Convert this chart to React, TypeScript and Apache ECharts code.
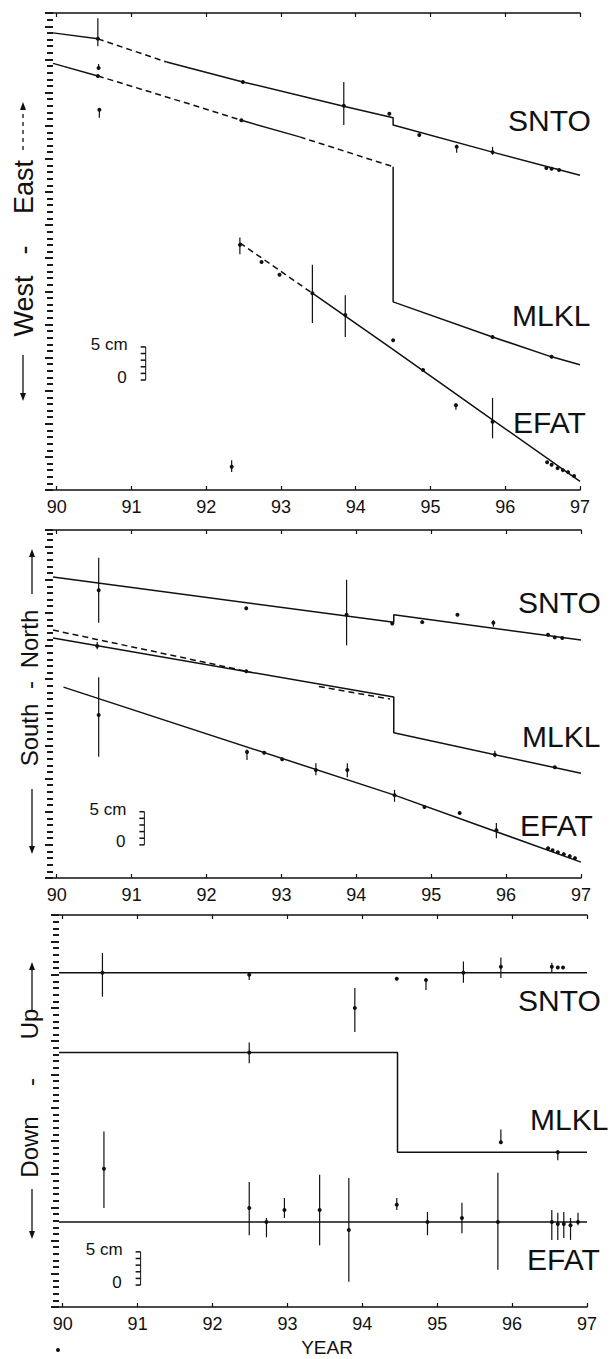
import React, { useEffect, useRef } from "react";
import * as echarts from "echarts";

const FONT = "'Liberation Sans', Arial, Helvetica, sans-serif";
const INK = "#111";
const YEARS = [90, 91, 92, 93, 94, 95, 96, 97];

// ---------- Panel 1: West - East (cm) ----------
const SNTO_E_SOLID_A = [[89.95, 69.0], [90.55, 68.1]];
const SNTO_E_DASH = [[90.55, 68.1], [91.47, 64.6]];
const SNTO_E_SOLID_B = [[91.47, 64.6], [92.49, 61.6], [93.81, 58.0], [94.5, 56.2], [94.5, 55.1], [95.83, 51.0], [97, 47.5]];
const SNTO_E_PTS = [[90.55, 68.1, 67.0, 71.2], [92.49, 61.6], [93.84, 58.0, 55.1, 61.6], [94.45, 56.8], [94.85, 53.6], [95.35, 51.8, 50.9, 52.1], [95.83, 51.0, 50.6, 51.8], [96.55, 48.6], [96.62, 48.5], [96.72, 48.3]];

const MLKL_E_SOLID_A = [[89.95, 64.4], [90.55, 62.5]];
const MLKL_E_DASH_A = [[90.55, 62.5], [91.91, 57.8], [92.47, 55.8]];
const MLKL_E_SOLID_B = [[92.47, 55.8], [93.25, 53.3]];
const MLKL_E_DASH_B = [[93.25, 53.3], [94.5, 48.8]];
const MLKL_E_SOLID_C = [[94.5, 48.8], [94.5, 28.4], [95.83, 23.1], [96.62, 20.1], [97, 18.9]];
const MLKL_E_PTS = [[90.55, 62.5], [90.56, 63.7, 63.7, 64.3], [90.57, 57.4, 56.2, 57.4], [92.47, 55.8], [95.83, 23.1], [96.62, 20.1]];

const EFAT_E_DASH = [[92.45, 37.3], [93.42, 29.7]];
const EFAT_E_SOLID = [[93.42, 29.7], [94.45, 21.6], [95.83, 10.6], [97, 1.3]];
const EFAT_E_PTS = [[92.34, 3.5, 2.7, 4.5], [92.45, 37.0, 35.6, 38.1], [92.74, 34.4], [92.98, 32.5], [93.42, 29.7, 25.2, 34.0], [93.86, 26.4, 23.1, 29.4], [94.5, 22.6], [94.9, 18.1], [95.34, 12.8, 12.1, 13.1], [95.83, 10.3, 7.8, 13.9], [96.56, 4.2], [96.62, 3.8], [96.7, 3.3], [96.77, 3.0], [96.84, 2.7], [96.92, 2.1]];

// ---------- Panel 2: South - North (cm) ----------
const SNTO_N_LINE = [[89.95, 45.4], [94.5, 38.6], [94.5, 39.7], [97, 35.9]];
const SNTO_N_PTS = [[90.56, 43.4, 38.5, 48.3], [92.53, 40.7], [93.87, 39.7, 35.1, 45.0], [94.48, 38.4], [94.88, 38.6], [95.35, 39.7], [95.83, 38.5, 37.9, 38.9], [96.56, 36.7], [96.65, 36.3], [96.75, 36.2]];

const MLKL_N_LINE = [[89.95, 36.2], [94.5, 27.3], [94.5, 21.9], [97, 15.8]];
const MLKL_N_DASH_A = [[89.95, 37.4], [92.16, 32.1], [92.6, 31.0]];
const MLKL_N_DASH_B = [[93.5, 28.9], [94.45, 27.0]];
const MLKL_N_PTS = [[90.54, 35.0, 34.5, 35.6], [92.53, 31.2], [95.85, 18.6, 18.2, 19.2], [96.65, 16.7]];

const EFAT_N_LINE = [[90.09, 28.8], [94.51, 12.5], [97, 2.4]];
const EFAT_N_PTS = [[90.56, 24.6, 18.3, 30.3], [92.54, 19.0, 17.8, 19.4], [92.77, 18.9], [93.01, 17.9], [93.46, 16.3, 15.5, 17.3], [93.88, 16.3, 15.2, 17.3], [94.51, 12.5, 11.5, 13.3], [94.91, 10.7], [95.38, 9.8], [95.87, 7.2, 6.0, 8.3], [96.56, 4.5], [96.62, 4.2], [96.69, 3.9], [96.77, 3.6], [96.85, 3.3], [96.92, 3.0]];

// ---------- Panel 3: Down - Up (cm) ----------
const SNTO_U_LINE = [[89.95, 50.3], [97, 50.3]];
const SNTO_U_PTS = [[90.53, 50.3, 46.7, 53.3], [92.49, 50.0, 49.2, 50.3], [93.9, 45.0, 41.4, 48.0], [94.46, 49.4], [94.85, 49.2, 47.7, 49.5], [95.35, 50.3, 48.8, 52.0], [95.85, 51.2, 49.5, 52.6], [96.53, 51.2, 50.3, 51.8], [96.61, 51.1], [96.68, 51.1]];

const MLKL_U_LINE = [[89.95, 38.3], [94.47, 38.3], [94.47, 23.3], [97, 23.3]];
const MLKL_U_PTS = [[92.49, 38.3, 36.7, 39.8], [95.85, 24.8, 24.7, 26.7], [96.61, 23.3, 22.1, 23.6]];

const EFAT_U_LINE = [[89.95, 12.8], [97, 12.8]];
const EFAT_U_PTS = [[90.55, 20.8, 14.9, 26.4], [92.49, 14.9, 10.8, 18.8], [92.72, 12.8, 10.5, 13.4], [92.96, 14.6, 13.4, 16.4], [93.43, 14.6, 9.3, 19.9], [93.82, 11.6, 3.8, 19.4], [94.46, 15.4, 14.6, 16.4], [94.87, 12.8, 10.8, 14.3], [95.33, 13.4, 11.1, 15.7], [95.81, 12.8, 5.6, 20.2], [96.53, 12.8, 10.1, 14.6], [96.61, 12.5, 10.1, 14.2], [96.69, 12.5, 10.4, 14.3], [96.78, 12.3, 10.1, 13.4], [96.88, 12.8, 12.3, 14.2]];

// 5 cm scale bars: [year, base cm]
const SCALE_BARS = [[91.19, 16.6], [91.17, 5.0], [91.04, 3.3]];
const Y_MAX = [72, 52.5, 59];
const STATIONS = ["SNTO", "MLKL", "EFAT"];

const GRIDS = [
  { left: 53, top: 13, width: 527, height: 477 },
  { left: 53, top: 530, width: 528, height: 348 },
  { left: 59, top: 915, width: 528, height: 392 },
];

function lineSeries(data: number[][], p: number, dashed = false) {
  return {
    type: "line",
    xAxisIndex: p * 2,
    yAxisIndex: p,
    data,
    showSymbol: false,
    symbol: "none",
    silent: true,
    lineStyle: { color: INK, width: 1.5, type: dashed ? [6, 4] : "solid" },
    z: 2,
  };
}

function pointSeries(pts: number[][], p: number) {
  const data = pts.map((q) => (q.length === 4 ? q : [q[0], q[1], q[1], q[1]]));
  return {
    type: "custom",
    coordinateSystem: "cartesian2d",
    xAxisIndex: p * 2,
    yAxisIndex: p,
    silent: true,
    data,
    encode: { x: 0, y: [1, 2, 3] },
    renderItem: (params: any, api: any) => {
      const x = api.value(0);
      const c = api.coord([x, api.value(1)]);
      const a = api.coord([x, api.value(2)]);
      const b = api.coord([x, api.value(3)]);
      const children: any[] = [];
      if (Math.abs(a[1] - b[1]) > 0.5) {
        children.push({ type: "line", shape: { x1: c[0], y1: a[1], x2: c[0], y2: b[1] }, style: { stroke: INK, lineWidth: 1.2 } });
      }
      children.push({ type: "circle", shape: { cx: c[0], cy: c[1], r: 2 }, style: { fill: INK } });
      return { type: "group", children };
    },
    z: 3,
  };
}

function scaleSeries(p: number) {
  return {
    type: "custom",
    coordinateSystem: "cartesian2d",
    xAxisIndex: p * 2,
    yAxisIndex: p,
    silent: true,
    clip: false,
    data: [SCALE_BARS[p]],
    renderItem: (params: any, api: any) => {
      const x = api.value(0);
      const base = api.value(1);
      const bot = api.coord([x, base]);
      const top = api.coord([x, base + 5]);
      const children: any[] = [
        { type: "line", shape: { x1: bot[0], y1: bot[1], x2: top[0], y2: top[1] }, style: { stroke: INK, lineWidth: 1 } },
      ];
      for (let k = 0; k <= 5; k++) {
        const t = api.coord([x, base + k]);
        children.push({ type: "line", shape: { x1: t[0] - 5, y1: t[1], x2: t[0], y2: t[1] }, style: { stroke: INK, lineWidth: 1.5 } });
      }
      children.push({
        type: "text",
        x: top[0] - 18,
        y: top[1] - 2,
        style: { text: "5 cm", fontSize: 17, fontFamily: FONT, fill: INK, align: "right", verticalAlign: "middle", textAlign: "right", textVerticalAlign: "middle" },
      });
      children.push({
        type: "text",
        x: bot[0] - 19,
        y: bot[1] - 3,
        style: { text: "0", fontSize: 17, fontFamily: FONT, fill: INK, align: "right", verticalAlign: "middle", textAlign: "right", textVerticalAlign: "middle" },
      });
      return { type: "group", children };
    },
    z: 3,
  };
}

function txt(text: string, x: number, y: number, size: number, rot = 0, align = "center") {
  return {
    type: "text",
    x,
    y,
    rotation: rot,
    silent: true,
    style: { text, fontSize: size, fontFamily: FONT, fill: INK, align, verticalAlign: "middle", textAlign: align, textVerticalAlign: "middle" },
  };
}

function arrow(x: number, y1: number, y2: number, dashed = false) {
  const dir = y2 > y1 ? 1 : -1;
  return {
    type: "group",
    silent: true,
    children: [
      { type: "line", shape: { x1: x, y1, x2: x, y2: y2 - dir * 6 }, style: { stroke: INK, lineWidth: 1.3, lineDash: dashed ? [4, 4] : null } },
      { type: "polygon", shape: { points: [[x - 3, y2 - dir * 8], [x + 3, y2 - dir * 8], [x, y2]] }, style: { fill: INK } },
    ],
  };
}

export default function App() {
  const ref = useRef<HTMLDivElement>(null);
  useEffect(() => {
    if (!ref.current) return;
    const chart = echarts.init(ref.current, undefined, { renderer: "svg" });

    const xAxis: any[] = [];
    const yAxis: any[] = [];
    GRIDS.forEach((g, i) => {
      const common = {
        type: "value",
        gridIndex: i,
        min: 89.95,
        max: 97,
        splitLine: { show: false },
        axisLine: { show: true, lineStyle: { color: INK, width: 1.5 } },
        axisTick: { show: true, inside: true, length: 4, customValues: YEARS, lineStyle: { color: INK, width: 1.2 } },
      };
      xAxis.push({
        ...common,
        position: "bottom",
        axisLabel: { show: true, customValues: YEARS, fontSize: 18, fontFamily: FONT, color: INK, margin: 8, formatter: (v: number) => String(Math.round(v)) },
      });
      xAxis.push({ ...common, position: "top", axisLabel: { show: false } });
      yAxis.push({
        type: "value",
        gridIndex: i,
        min: 0,
        max: Y_MAX[i],
        interval: 5,
        axisLine: { show: false },
        axisTick: { show: true, inside: false, length: 8, lineStyle: { color: "#1a1a1a", width: 2 } },
        minorTick: { show: true, splitNumber: 5, length: 6, lineStyle: { color: "#1a1a1a", width: 2 } },
        axisLabel: { show: false },
        splitLine: { show: false },
        minorSplitLine: { show: false },
      });
    });

    const series: any[] = [
      lineSeries(SNTO_E_SOLID_A, 0), lineSeries(SNTO_E_DASH, 0, true), lineSeries(SNTO_E_SOLID_B, 0), pointSeries(SNTO_E_PTS, 0),
      lineSeries(MLKL_E_SOLID_A, 0), lineSeries(MLKL_E_DASH_A, 0, true), lineSeries(MLKL_E_SOLID_B, 0), lineSeries(MLKL_E_DASH_B, 0, true), lineSeries(MLKL_E_SOLID_C, 0), pointSeries(MLKL_E_PTS, 0),
      lineSeries(EFAT_E_DASH, 0, true), lineSeries(EFAT_E_SOLID, 0), pointSeries(EFAT_E_PTS, 0),
      lineSeries(SNTO_N_LINE, 1), pointSeries(SNTO_N_PTS, 1),
      lineSeries(MLKL_N_LINE, 1), lineSeries(MLKL_N_DASH_A, 1, true), lineSeries(MLKL_N_DASH_B, 1, true), pointSeries(MLKL_N_PTS, 1),
      lineSeries(EFAT_N_LINE, 1), pointSeries(EFAT_N_PTS, 1),
      lineSeries(SNTO_U_LINE, 2), pointSeries(SNTO_U_PTS, 2),
      lineSeries(MLKL_U_LINE, 2), pointSeries(MLKL_U_PTS, 2),
      lineSeries(EFAT_U_LINE, 2), pointSeries(EFAT_U_PTS, 2),
      scaleSeries(0), scaleSeries(1), scaleSeries(2),
    ];

    const R = Math.PI / 2;
    const graphic: any[] = [
      txt(STATIONS[0], 508, 120, 30, 0, "left"),
      txt(STATIONS[1], 512, 315, 30, 0, "left"),
      txt(STATIONS[2], 513, 422, 30, 0, "left"),
      txt(STATIONS[0], 518, 602, 30, 0, "left"),
      txt(STATIONS[1], 522, 736, 30, 0, "left"),
      txt(STATIONS[2], 520, 825, 30, 0, "left"),
      txt(STATIONS[0], 518, 1000, 30, 0, "left"),
      txt(STATIONS[1], 530, 1119, 30, 0, "left"),
      txt(STATIONS[2], 527, 1259, 30, 0, "left"),
      txt("East", 24, 187, 27, R),
      txt("-", 24, 250, 27, R),
      txt("West", 24, 306, 27, R),
      arrow(23, 150, 102, true),
      arrow(23, 355, 401),
      txt("North", 29, 639, 24, R),
      txt("-", 29, 685, 24, R),
      txt("South", 29, 735, 24, R),
      arrow(32, 594, 549),
      arrow(32, 789, 854),
      txt("Up", 29, 1024, 24, R),
      txt("-", 30, 1082, 24, R),
      txt("Down", 29, 1147, 24, R),
      arrow(32, 1011, 962),
      arrow(32, 1189, 1239),
      txt("YEAR", 327, 1347, 19, 0, "center"),
      { type: "circle", silent: true, shape: { cx: 58, cy: 1350, r: 2 }, style: { fill: INK } },
    ];

    chart.setOption({
      animation: false,
      backgroundColor: "#fff",
      grid: GRIDS.map((g) => ({ ...g, containLabel: false })),
      xAxis,
      yAxis,
      series,
      graphic,
    });
    return () => chart.dispose();
  }, []);

  return (
    <div
      ref={ref}
      style={{ position: "absolute", left: 0, top: 0, width: 613, height: 1359, background: "#fff" }}
    />
  );
}
